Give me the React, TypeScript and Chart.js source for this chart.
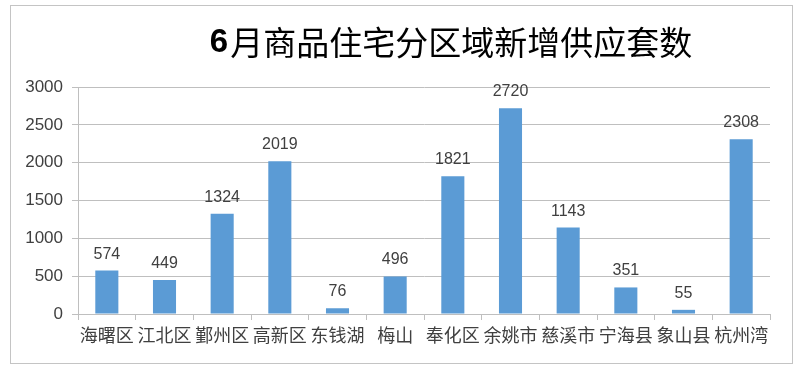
import React, { useEffect, useRef } from "react";
import { Chart, registerables } from "chart.js";

Chart.register(...registerables);

const categories = ["海曙区", "江北区", "鄞州区", "高新区", "东钱湖", "梅山", "奉化区", "余姚市", "慈溪市", "宁海县", "象山县", "杭州湾"];
const supplyUnits = [574, 449, 1324, 2019, 76, 496, 1821, 2720, 1143, 351, 55, 2308];
const yTicks = [0, 500, 1000, 1500, 2000, 2500, 3000];
const titleNum = "6";
const titleRest = "月商品住宅分区域新增供应套数";

const LATIN = "'Liberation Sans', 'Noto Sans CJK SC', sans-serif";
const CJK = "'Noto Sans CJK SC', 'Liberation Sans', sans-serif";

const framePlugin = {
  id: "frameAndTitle",
  beforeDraw(chart: any) {
    const ctx = chart.ctx;
    ctx.save();
    ctx.fillStyle = "#ffffff";
    ctx.fillRect(0, 0, chart.width, chart.height);
    ctx.strokeStyle = "#c4c4c4";
    ctx.lineWidth = 1;
    ctx.strokeRect(10.5, 5.5, 782, 358);
    ctx.restore();
  },
  afterDraw(chart: any) {
    const ctx = chart.ctx;
    ctx.save();
    ctx.fillStyle = "#000000";
    ctx.textBaseline = "middle";
    ctx.font = "bold 33px " + LATIN;
    const w1 = ctx.measureText(titleNum).width;
    ctx.font = "400 33px " + CJK;
    const w2 = ctx.measureText(titleRest).width;
    const total = w1 + 2 + w2;
    const cx = 451;
    let x = cx - total / 2;
    ctx.textAlign = "left";
    ctx.font = "bold 33px " + LATIN;
    ctx.fillText(titleNum, x, 43);
    x += w1 + 2;
    ctx.font = "400 33px " + CJK;
    ctx.fillText(titleRest, x, 42);
    ctx.restore();
  },
  afterDatasetsDraw(chart: any) {
    const ctx = chart.ctx;
    const meta = chart.getDatasetMeta(0);
    ctx.save();
    ctx.fillStyle = "#404040";
    ctx.font = "16px " + LATIN;
    ctx.textAlign = "center";
    ctx.textBaseline = "alphabetic";
    meta.data.forEach((bar: any, i: number) => {
      ctx.fillText(String(supplyUnits[i]), bar.x, bar.y - 12);
    });
    ctx.restore();
  },
};

export default function App() {
  const ref = useRef<HTMLCanvasElement | null>(null);
  useEffect(() => {
    if (!ref.current) return;
    const chart = new Chart(ref.current, {
      type: "bar",
      data: {
        labels: categories,
        datasets: [
          {
            data: supplyUnits,
            backgroundColor: "#5B9BD5",
            categoryPercentage: 1,
            barPercentage: 0.4,
          },
        ],
      },
      options: {
        animation: false,
        responsive: false,
        maintainAspectRatio: false,
        devicePixelRatio: 1,
        layout: { padding: { top: 87, right: 30, left: 0, bottom: 0 } },
        plugins: { legend: { display: false }, tooltip: { enabled: false }, title: { display: false } },
        scales: {
          x: {
            offset: true,
            grid: { offset: true, drawOnChartArea: false, drawTicks: true, tickLength: 6, color: "#bfbfbf" },
            border: { color: "#bfbfbf" },
            ticks: { color: "#404040", font: { size: 18, family: CJK }, padding: 4, maxRotation: 0, autoSkip: false },
            afterFit: (s: any) => { s.height = 59; },
          },
          y: {
            min: 0,
            max: 3000,
            afterBuildTicks: (s: any) => { s.ticks = yTicks.map((v) => ({ value: v })); },
            grid: { color: "#bfbfbf", tickLength: 6 },
            border: { color: "#bfbfbf" },
            ticks: {
              color: "#404040",
              font: { size: 17, family: LATIN },
              padding: 9,
              callback: (v: any) => String(v),
            },
            afterFit: (s: any) => { s.width = 78; },
          },
        },
      },
      plugins: [framePlugin],
    });
    return () => chart.destroy();
  }, []);
  return (
    <div style={{ position: "fixed", left: 0, top: 0, width: 800, height: 373, background: "#fff" }}>
      <canvas ref={ref} width={800} height={373} style={{ width: 800, height: 373 }} />
    </div>
  );
}
